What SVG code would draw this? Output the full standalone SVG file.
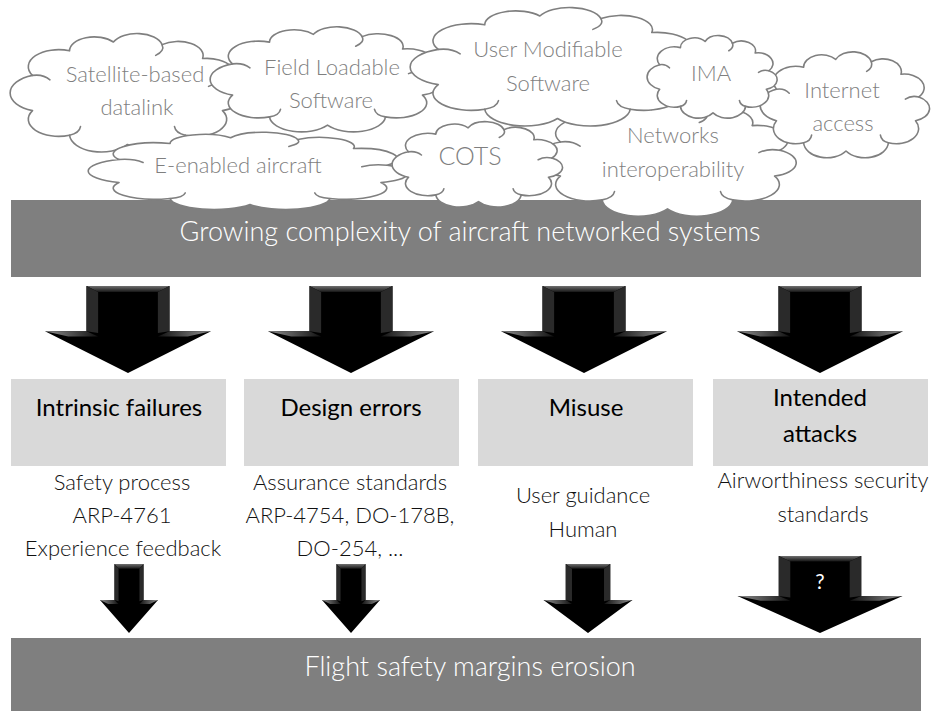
<svg xmlns="http://www.w3.org/2000/svg" xmlns:xlink="http://www.w3.org/1999/xlink" width="932" height="711" viewBox="0 0 932 711">
  <style>
    .bar { fill: #7f7f7f; }
    .box { fill: #d9d9d9; }
    .cloud-body { fill: #ffffff; stroke: #7f7f7f; stroke-width: 1.6; vector-effect: non-scaling-stroke; stroke-linejoin: round; }
    .cloud-hook { fill: none; stroke: #7f7f7f; stroke-width: 1.6; vector-effect: non-scaling-stroke; stroke-linecap: round; }
    .ctext { font-family: Lato, "Liberation Sans", sans-serif; font-weight: 300; font-size: 22px; fill: #7f7f7f; text-anchor: middle; }
    .btext { font-family: Lato, "Liberation Sans", sans-serif; font-weight: 300; font-size: 27px; fill: #ffffff; text-anchor: middle; }
    .title { font-family: Lato, "Liberation Sans", sans-serif; font-weight: 400; font-size: 24px; fill: #000000; text-anchor: middle; }
    .note { font-family: Lato, "Liberation Sans", sans-serif; font-weight: 300; font-size: 22px; fill: #111111; text-anchor: middle; }
    .q { font-family: Lato, "Liberation Sans", sans-serif; font-size: 21px; fill: #ffffff; text-anchor: middle; }
  </style>
  <defs>
    <linearGradient id="bevelTop" x1="0" y1="0" x2="0" y2="1">
      <stop offset="0" stop-color="#707070"/>
      <stop offset="1" stop-color="#141414"/>
    </linearGradient>
    <linearGradient id="bevelLeft" x1="0" y1="0" x2="1" y2="0">
      <stop offset="0" stop-color="#909090"/>
      <stop offset="1" stop-color="#111111"/>
    </linearGradient>
    <linearGradient id="bevelRight" x1="1" y1="0" x2="0" y2="0">
      <stop offset="0" stop-color="#909090"/>
      <stop offset="1" stop-color="#111111"/>
    </linearGradient>
    <!-- generic cloud outline in a 100x100 box -->
    <g id="cloudShape">
      <path class="cloud-body" d="M9.59,36.66 A12.9,12.9 0 0 1 25.34,18.05 A10.5,10.5 0 0 1 44.01,11.38 A11,11 0 0 1 64.71,13.35 A10.7,10.7 0 0 1 81.95,23.9 A11.6,11.6 0 0 1 92.35,43.23 A10.7,10.7 0 0 1 90.41,63.34 A12.9,12.9 0 0 1 74.66,81.95 A13.6,13.6 0 0 1 50,89 A13.6,13.6 0 0 1 25.34,81.95 A12.9,12.9 0 0 1 9.59,63.34 A14.1,14.1 0 0 1 9.59,36.66 Z"/>
      <path class="cloud-hook" d="M9.59,36.66 Q14,35.5 17,40 M64.71,13.35 Q66,18 62,21.5 M92.35,43.23 Q88,41.5 84.5,45 M74.66,81.95 Q70.5,80.5 70,75.5 M25.34,81.95 Q29.5,80.5 30,75.5"/>
    </g>
    <!-- generic bevelled block arrow in a 100x100 box -->
    <g id="blockArrow">
      <path d="M25,0 H75 V52 H100 L50,100 L0,52 H25 Z" fill="#000000"/>
      <path d="M25,0 H75 L68,7 H32 Z" fill="url(#bevelTop)"/>
      <path d="M25,0 L32,7 V54 L25,52 Z" fill="#2a2a2a"/>
      <path d="M75,0 L68,7 V54 L75,52 Z" fill="#2a2a2a"/>
      <path d="M25,52 L0,52 L14,58 L32,58 Z" fill="url(#bevelLeft)"/>
      <path d="M75,52 L100,52 L86,58 L68,58 Z" fill="url(#bevelRight)"/>
    </g>
  </defs>

  <rect width="932" height="711" fill="#ffffff"/>

  <!-- top banner -->
  <g id="growing-complexity">
    <rect class="bar" x="11" y="200" width="910" height="77"/>
    <text class="btext" x="470" y="241">Growing complexity of aircraft networked systems</text>
  </g>

  <!-- clouds -->
  <g id="cloud-satellite">
    <use xlink:href="#cloudShape" transform="translate(10,27) scale(2.35,1.32)"/>
    <text class="ctext" x="135" y="82">Satellite-based</text>
    <text class="ctext" x="137" y="115">datalink</text>
  </g>
  <g id="cloud-field-loadable">
    <use xlink:href="#cloudShape" transform="translate(210,21) scale(2.35,1.17)"/>
    <text class="ctext" x="332" y="75">Field Loadable</text>
    <text class="ctext" x="331" y="108">Software</text>
  </g>
  <g id="cloud-networks">
    <use xlink:href="#cloudShape" transform="translate(535,95) scale(2.65,1.28)"/>
    <text class="ctext" x="673" y="143">Networks</text>
    <text class="ctext" x="673" y="177">interoperability</text>
  </g>
  <g id="cloud-user-modifiable">
    <use xlink:href="#cloudShape" transform="translate(410,1) scale(2.95,1.32)"/>
    <text class="ctext" x="548" y="57">User Modifiable</text>
    <text class="ctext" x="548" y="91">Software</text>
  </g>
  <g id="cloud-internet">
    <use xlink:href="#cloudShape" transform="translate(760,46) scale(1.72,1.18)"/>
    <text class="ctext" x="842" y="98">Internet</text>
    <text class="ctext" x="843" y="131">access</text>
  </g>
  <g id="cloud-ima">
    <use xlink:href="#cloudShape" transform="translate(647,31) scale(1.32,0.92)"/>
    <text class="ctext" x="711" y="81">IMA</text>
  </g>
  <g id="cloud-e-enabled">
    <use xlink:href="#cloudShape" transform="translate(88,128) scale(3.24,0.86)"/>
    <text class="ctext" x="238" y="173">E-enabled aircraft</text>
  </g>
  <g id="cloud-cots">
    <use xlink:href="#cloudShape" transform="translate(392,117) scale(1.73,0.95)"/>
    <text class="ctext" x="470" y="165" style="font-size:25px">COTS</text>
  </g>

  <!-- threat categories -->
  <g id="intrinsic-failures">
    <rect class="box" x="11" y="379" width="215" height="87"/>
    <text class="title" x="119" y="416">Intrinsic failures</text>
    <text class="note" x="122" y="490">Safety process</text>
    <text class="note" x="122" y="523">ARP-4761</text>
    <text class="note" x="123" y="556">Experience feedback</text>
  </g>
  <g id="design-errors">
    <rect class="box" x="244" y="379" width="215" height="87"/>
    <text class="title" x="351" y="416">Design errors</text>
    <text class="note" x="350" y="490">Assurance standards</text>
    <text class="note" x="350" y="523">ARP-4754, DO-178B,</text>
    <text class="note" x="350" y="556">DO-254, ...</text>
  </g>
  <g id="misuse">
    <rect class="box" x="478" y="379" width="215" height="87"/>
    <text class="title" x="586" y="416">Misuse</text>
    <text class="note" x="583" y="503">User guidance</text>
    <text class="note" x="583" y="537">Human</text>
  </g>
  <g id="intended-attacks">
    <rect class="box" x="713" y="379" width="215" height="87"/>
    <text class="title" x="820" y="406">Intended</text>
    <text class="title" x="820" y="442">attacks</text>
    <text class="note" x="823" y="488">Airworthiness security</text>
    <text class="note" x="823" y="522">standards</text>
  </g>

  <!-- bottom banner -->
  <g id="safety-margins-erosion">
    <rect class="bar" x="11" y="638" width="910" height="73"/>
    <text class="btext" x="470" y="676">Flight safety margins erosion</text>
  </g>

  <!-- connectors -->
  <g id="connectors">
    <use xlink:href="#blockArrow" transform="translate(45,286) scale(1.66,0.87)"/>
    <use xlink:href="#blockArrow" transform="translate(268,286) scale(1.66,0.87)"/>
    <use xlink:href="#blockArrow" transform="translate(501,286) scale(1.66,0.87)"/>
    <use xlink:href="#blockArrow" transform="translate(737,286) scale(1.66,0.87)"/>

    <use xlink:href="#blockArrow" transform="translate(100,564) scale(0.58,0.69)"/>
    <use xlink:href="#blockArrow" transform="translate(322,564) scale(0.58,0.69)"/>
    <use xlink:href="#blockArrow" transform="translate(543.5,564) scale(0.89,0.69)"/>
    <use xlink:href="#blockArrow" transform="translate(737.5,556) scale(1.65,0.77)"/>
    <text class="q" x="820" y="589">?</text>
  </g>
</svg>
